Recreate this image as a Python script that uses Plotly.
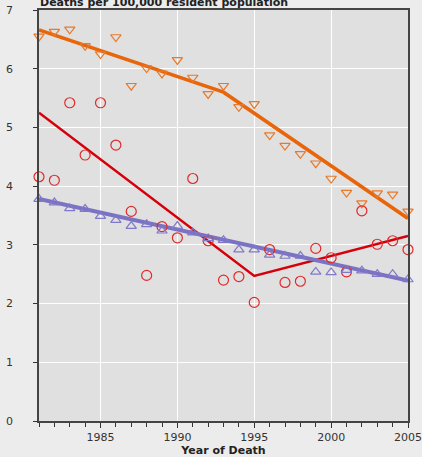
import plotly.graph_objects as go

years = list(range(1981, 2006))

orange_obs = [6.55, 6.63, 6.67, 6.39, 6.25, 6.54, 5.71, 6.01, 5.92, 6.15, 5.85, 5.57, 5.71,
              5.35, 5.40, 4.87, 4.69, 4.55, 4.39, 4.13, 3.89, 3.71, 3.88, 3.86, 3.57]
red_obs = [4.16, 4.10, 5.42, 4.53, 5.42, 4.70, 3.57, 2.48, 3.31, 3.12, 4.13, 3.07, 2.40,
           2.46, 2.02, 2.92, 2.36, 2.38, 2.94, 2.78, 2.54, 3.58, 3.01, 3.07, 2.92]
purple_obs = [3.78, 3.72, 3.62, 3.61, 3.49, 3.42, 3.32, 3.35, 3.24, 3.32, 3.21, 3.11, 3.08,
              2.92, 2.92, 2.83, 2.81, 2.81, 2.54, 2.53, 2.57, 2.56, 2.50, 2.50, 2.41]

orange_fit_x = [1981, 1993, 2005]
orange_fit_y = [6.66, 5.60, 3.45]
red_fit_x = [1981, 1995, 2005]
red_fit_y = [5.25, 2.47, 3.15]
purple_fit_x = [1981, 2005]
purple_fit_y = [3.78, 2.39]

x_ticks = [1985, 1990, 1995, 2000, 2005]
y_ticks = [0, 1, 2, 3, 4, 5, 6, 7]

ORANGE = "#e8650a"
ORANGE_M = "#e8792a"
RED = "#d5000a"
RED_M = "#e02a2a"
PURPLE = "#7a72c2"
PURPLE_M = "#8078c8"

fig = go.Figure()

fig.add_trace(go.Scatter(x=orange_fit_x, y=orange_fit_y, mode="lines",
                         line=dict(color=ORANGE, width=3.5), cliponaxis=False, showlegend=False))
fig.add_trace(go.Scatter(x=red_fit_x, y=red_fit_y, mode="lines",
                         line=dict(color=RED, width=2.5), cliponaxis=False, showlegend=False))
fig.add_trace(go.Scatter(x=purple_fit_x, y=purple_fit_y, mode="lines",
                         line=dict(color=PURPLE, width=4), cliponaxis=False, showlegend=False))

fig.add_trace(go.Scatter(x=years, y=orange_obs, mode="markers",
                         marker=dict(symbol="triangle-down-open", size=9, color=ORANGE_M,
                                     line=dict(width=1.2, color=ORANGE_M)),
                         cliponaxis=False, showlegend=False))
fig.add_trace(go.Scatter(x=years, y=red_obs, mode="markers",
                         marker=dict(symbol="circle-open", size=10, color=RED_M,
                                     line=dict(width=1.2, color=RED_M)),
                         cliponaxis=False, showlegend=False))
fig.add_trace(go.Scatter(x=years, y=purple_obs, mode="markers",
                         marker=dict(symbol="triangle-up-open", size=9, color=PURPLE_M,
                                     line=dict(width=1.2, color=PURPLE_M)),
                         cliponaxis=False, showlegend=False))

fig.update_layout(
    width=422, height=457,
    margin=dict(l=39, r=14, t=10, b=36, autoexpand=False),
    paper_bgcolor="#ececec",
    plot_bgcolor="#e0e0e0",
    font=dict(family="DejaVu Sans", size=11, color="#333333"),
    xaxis=dict(range=[1981, 2005], tickmode="array", tickvals=x_ticks,
               automargin=False,
               showgrid=True, gridcolor="#ffffff", gridwidth=1.2,
               ticks="outside", ticklen=5, tickcolor="#333333", tickwidth=1,
               minor=dict(dtick=1, tick0=1981, ticks="outside", ticklen=4,
                          tickcolor="#333333", showgrid=False),
               showline=True, linecolor="#444444", linewidth=1.5, mirror=True,
               zeroline=False,
               title=dict(text="<b>Year of Death</b>", standoff=2,
                          font=dict(size=11, color="#222222"))),
    yaxis=dict(range=[0, 7], tickmode="array", tickvals=y_ticks,
               automargin=False,
               showgrid=True, gridcolor="#ffffff", gridwidth=1.2,
               ticks="outside", ticklen=4, tickcolor="#333333", tickwidth=1,
               ticklabelstandoff=18,
               showline=True, linecolor="#444444", linewidth=1.5, mirror=True,
               zeroline=False),
    annotations=[dict(text="<b>Deaths per 100,000 resident population</b>",
                      xref="paper", yref="paper", x=0, y=1, xanchor="left",
                      yanchor="bottom", showarrow=False, xshift=-1, yshift=-1,
                      font=dict(size=11, color="#222222"))],
)

fig.write_html("out.html",
               config={"displayModeBar": False},
               post_script="document.body.style.margin='0';document.body.style.overflow='hidden';")
